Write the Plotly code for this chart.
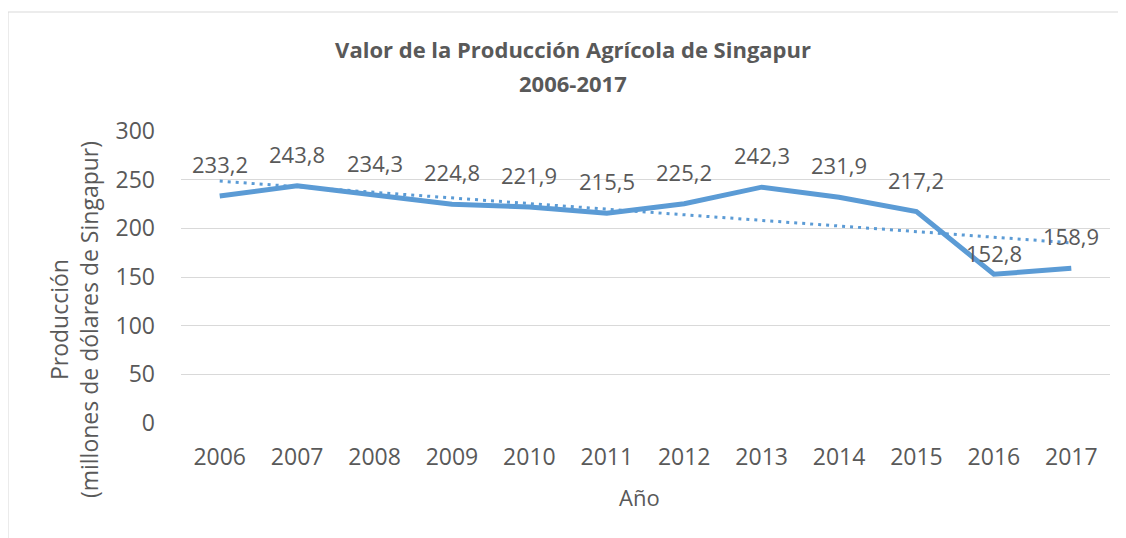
import numpy as np
import plotly.graph_objects as go

years = ["2006", "2007", "2008", "2009", "2010", "2011", "2012", "2013", "2014", "2015", "2016", "2017"]
production = [233.2, 243.8, 234.3, 224.8, 221.9, 215.5, 225.2, 242.3, 231.9, 217.2, 152.8, 158.9]
y_ticks = [0, 50, 100, 150, 200, 250, 300]

title_line1 = "<b>Valor de la Producción Agrícola de Singapur</b>"
title_line2 = "<b>2006-2017</b>"
y_title = "Producción<br>(millones de dólares de Singapur)"
x_title = "Año"

BLUE = "#5B9BD5"
GRAY = "#595959"
GRID = "#D9D9D9"
FONT = "Open Sans"

# Linear trendline (least squares fit of the series)
xi = np.arange(1, len(production) + 1)
slope, intercept = np.polyfit(xi, production, 1)
trend = (slope * xi + intercept).tolist()

fig = go.Figure()
fig.add_trace(go.Scatter(
    x=years, y=trend, mode="lines",
    line=dict(color=BLUE, width=3, dash="3px,5px"),
    hoverinfo="skip", showlegend=False,
))
fig.add_trace(go.Scatter(
    x=years, y=production, mode="lines",
    line=dict(color=BLUE, width=5),
    showlegend=False,
))

annotations = []
for i, v in enumerate(production):
    annotations.append(dict(
        x=i, y=v, xref="x", yref="y",
        text=f"{v:.1f}".replace(".", ","),
        showarrow=False, yshift=32 if v > 155 else 21,
        font=dict(family=FONT, size=22, color=GRAY),
    ))

annotations.append(dict(
    x=-0.115, y=0.353, xref="paper", yref="paper",
    text=y_title, textangle=-90, showarrow=False,
    xanchor="center", yanchor="middle",
    font=dict(family=FONT, size=23, color=GRAY),
))
annotations.append(dict(
    x=0.494, y=-0.253, xref="paper", yref="paper",
    text=x_title, showarrow=False,
    xanchor="center", yanchor="middle",
    font=dict(family=FONT, size=22, color=GRAY),
))
annotations.append(dict(
    x=0.422, y=1.164, xref="paper", yref="paper",
    text=title_line2, showarrow=False,
    xanchor="center", yanchor="middle",
    font=dict(family=FONT, size=22, color=GRAY),
))

fig.update_layout(
    width=1118, height=530,
    margin=dict(l=173, r=16, t=123, b=115),
    paper_bgcolor="white", plot_bgcolor="white",
    title=dict(
        text=title_line1, x=0.5054, xanchor="center",
        y=0.9208, yanchor="middle", yref="container",
        font=dict(family=FONT, size=22, color=GRAY),
    ),
    annotations=annotations,
    shapes=[dict(
        type="rect", xref="paper", yref="paper",
        x0=-0.1862, x1=1.05, y0=-0.6, y1=1.4075,
        line=dict(color=GRID, width=1), layer="below",
    )],
    xaxis=dict(
        type="category", range=[-0.5, len(years) - 0.5],
        showgrid=False, showline=False, zeroline=False,
        ticks="", tickfont=dict(family=FONT, size=23, color=GRAY),
        ticklabelstandoff=18,
    ),
    yaxis=dict(
        range=[0, 300], tickvals=y_ticks, showgrid=True,
        gridcolor=GRID, gridwidth=1, zeroline=False, showline=False,
        ticks="", tickfont=dict(family=FONT, size=23, color=GRAY),
        ticklabelstandoff=25,
    ),
)

fig.write_html("out.html")
